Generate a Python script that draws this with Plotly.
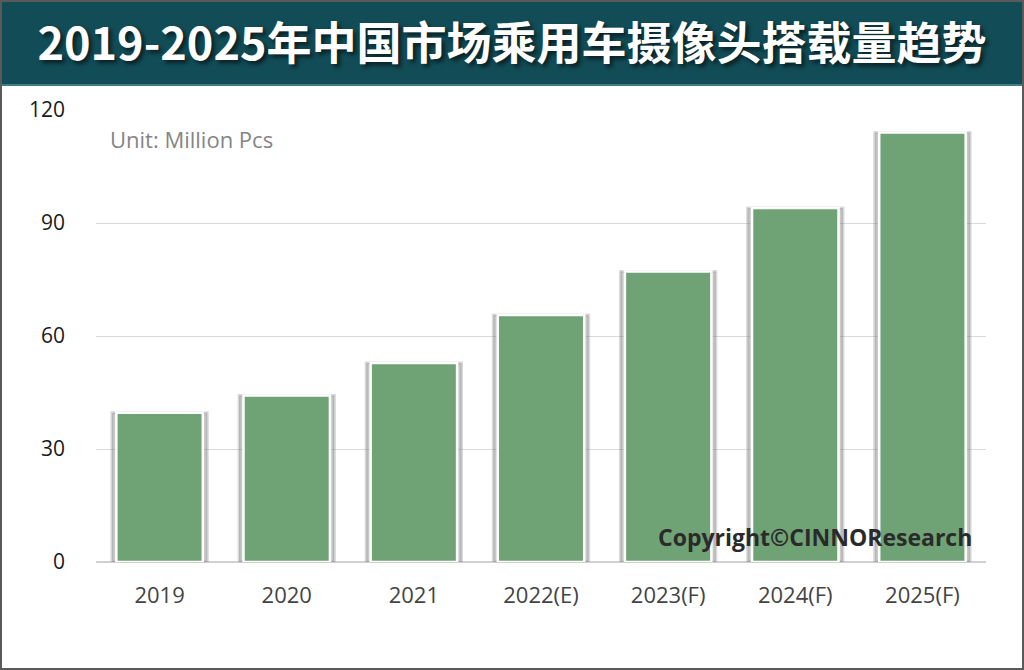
import plotly.graph_objects as go

# chart data (million pcs)
categories = ['2019', '2020', '2021', '2022(E)', '2023(F)', '2024(F)', '2025(F)']
volumes = [39.6, 44.2, 52.8, 65.6, 77.1, 94.0, 114.0]
y_ticks = [0, 30, 60, 90, 120]

TITLE = '2019-2025年中国市场乘用车摄像头搭载量趋势'
UNIT_NOTE = 'Unit: Million Pcs'
COPYRIGHT = 'Copyright©CINNOResearch'

W, H = 1024, 670
MARGIN = dict(l=96, r=38, t=110, b=108)
BANNER_H = 85
BAR_GREEN = '#6fa274'
BANNER_TEAL = '#124d57'


def px_to_paper_x(px):
    return (px - MARGIN['l']) / (W - MARGIN['l'] - MARGIN['r'])


def px_to_paper_y(py):
    return (H - MARGIN['b'] - py) / (H - MARGIN['t'] - MARGIN['b'])


fig = go.Figure()

# soft shadow behind each bar
fig.add_trace(go.Bar(
    x=categories, y=volumes, width=0.75,
    marker=dict(color='rgba(110,110,110,0.38)', line=dict(color='rgba(150,150,150,0.35)', width=3)),
    hoverinfo='skip', showlegend=False,
))
fig.add_trace(go.Bar(
    x=categories, y=volumes, width=0.68,
    marker=dict(color=BAR_GREEN, line=dict(color='white', width=2.5)),
    showlegend=False,
))

shapes = [
    # title banner
    dict(type='rect', xref='paper', yref='paper', layer='below',
         x0=px_to_paper_x(0), x1=px_to_paper_x(W), y0=px_to_paper_y(BANNER_H), y1=px_to_paper_y(0),
         fillcolor=BANNER_TEAL, line=dict(width=0)),
    dict(type='line', xref='paper', yref='paper',
         x0=px_to_paper_x(0), x1=px_to_paper_x(W), y0=px_to_paper_y(BANNER_H), y1=px_to_paper_y(BANNER_H),
         line=dict(color='#3f7d86', width=2)),
    # outer frame
    dict(type='rect', xref='paper', yref='paper',
         x0=px_to_paper_x(1), x1=px_to_paper_x(W - 1), y0=px_to_paper_y(H - 1), y1=px_to_paper_y(1),
         line=dict(color='#5a5a5a', width=2)),
]

annotations = [
    dict(text=UNIT_NOTE, xref='paper', yref='paper', x=px_to_paper_x(108), y=px_to_paper_y(139),
         xanchor='left', yanchor='middle', showarrow=False,
         font=dict(family='Open Sans', size=22, color='#858585')),
    dict(text=f'<b>{COPYRIGHT}</b>', xref='paper', yref='paper', x=px_to_paper_x(974), y=px_to_paper_y(537),
         xanchor='right', yanchor='middle', showarrow=False,
         font=dict(family='Open Sans', size=23, color='#2a2a2a')),
]

fig.update_layout(
    width=W, height=H,
    margin=MARGIN,
    paper_bgcolor='white',
    plot_bgcolor='white',
    barmode='overlay',
    title=dict(
        text=f'<b>{TITLE}</b>', x=0.5, xanchor='center', y=1 - 44 / H, yanchor='middle',
        font=dict(family='Noto Sans CJK SC', size=45, color='white', shadow='3px 3px 4px #0a1e22'),
    ),
    shapes=shapes,
    annotations=annotations,
)
fig.update_xaxes(
    type='category', showgrid=False, showline=False, zeroline=False,
    tickfont=dict(family='Open Sans', size=22, color='#444444'),
    ticklabelstandoff=18,
)
fig.update_yaxes(
    range=[0, 120], tickvals=y_ticks, showgrid=True, gridcolor='#d9d9d9', gridwidth=1,
    zeroline=True, zerolinecolor='#d0d0d0', zerolinewidth=1.5, showline=False,
    tickfont=dict(family='Open Sans', size=21, color='#1a1a1a'),
    ticklabelstandoff=30,
)

# drop the page's default body margin so the figure sits at the window origin
fig.write_html('out.html', config={'displayModeBar': False},
               post_script="document.body.style.margin='0';")
